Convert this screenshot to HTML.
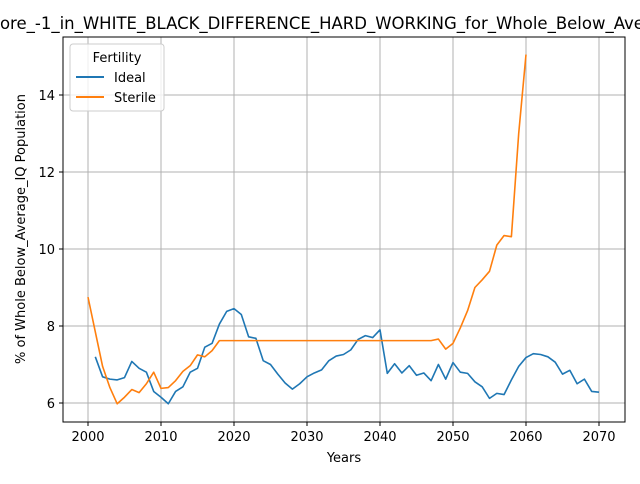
<!DOCTYPE html>
<html><head><meta charset="utf-8"><style>
body{margin:0;background:#fff;font-family:"DejaVu Sans","Liberation Sans",sans-serif;}
svg text{font-family:"DejaVu Sans","Liberation Sans",sans-serif;}
</style></head><body>
<svg id="chart" width="640" height="480" viewBox="0 0 640 480" xmlns="http://www.w3.org/2000/svg">
<rect width="640" height="480" fill="#fff"/>
<g id="grid"></g>
<g id="series"></g>
<rect x="63" y="37" width="562" height="385" fill="none" stroke="#000" stroke-width="1"/>
<g id="ticks"></g>
<text x="344" y="29" font-size="16.5" text-anchor="middle">Score_-1_in_WHITE_BLACK_DIFFERENCE_HARD_WORKING_for_Whole_Below_Average_IQ</text>
<text x="344" y="462" font-size="13" text-anchor="middle">Years</text>
<text transform="translate(25,229) rotate(-90)" font-size="13" text-anchor="middle">% of Whole Below_Average_IQ Population</text>
<g>
<rect x="70" y="44" width="94" height="67" rx="3" fill="#fff" fill-opacity="0.8" stroke="#ccc"/>
<text x="117" y="62" font-size="13" text-anchor="middle">Fertility</text>
<line x1="76" y1="77" x2="104" y2="77" stroke="#1f77b4" stroke-width="2"/>
<text x="114" y="82" font-size="13">Ideal</text>
<line x1="76" y1="97" x2="104" y2="97" stroke="#ff7f0e" stroke-width="2"/>
<text x="114" y="102" font-size="13">Sterile</text>
</g>
</svg>
<script>
const idealYears = [];
for (let y = 2001; y <= 2070; y++) idealYears.push(y);
const idealValues = [7.2,6.68,6.62,6.6,6.66,7.08,6.9,6.8,6.3,6.15,5.98,6.3,6.42,6.8,6.9,7.45,7.55,8.05,8.38,8.45,8.3,7.72,7.68,7.1,7.0,6.75,6.52,6.36,6.5,6.68,6.78,6.86,7.1,7.22,7.26,7.38,7.65,7.75,7.7,7.9,6.77,7.02,6.78,6.97,6.72,6.78,6.58,7.0,6.62,7.05,6.8,6.77,6.55,6.42,6.12,6.25,6.22,6.6,6.95,7.18,7.28,7.26,7.2,7.06,6.75,6.85,6.5,6.62,6.3,6.28];
const sterileYears = [];
for (let y = 2000; y <= 2060; y++) sterileYears.push(y);
const sterileValues = [8.75,7.85,6.95,6.4,5.98,6.15,6.35,6.27,6.5,6.8,6.38,6.4,6.58,6.82,6.97,7.25,7.2,7.36,7.62,7.62,7.62,7.62,7.62,7.62,7.62,7.62,7.62,7.62,7.62,7.62,7.62,7.62,7.62,7.62,7.62,7.62,7.62,7.62,7.62,7.62,7.62,7.62,7.62,7.62,7.62,7.62,7.62,7.62,7.66,7.4,7.55,7.95,8.4,9.0,9.2,9.42,10.1,10.35,10.32,13.0,15.05];
const xTicks = [2000,2010,2020,2030,2040,2050,2060,2070];
const yTicks = [6,8,10,12,14];

const NS = "http://www.w3.org/2000/svg";
const X = v => 88 + (v - 2000) * (599 - 88) / 70;
const Y = v => 403 - (v - 6) * (403 - 95) / 8;
const grid = document.getElementById('grid'), ticks = document.getElementById('ticks'), series = document.getElementById('series');
function mk(tag, attrs, parent){const e=document.createElementNS(NS,tag);for(const k in attrs)e.setAttribute(k,attrs[k]);parent.appendChild(e);return e;}
xTicks.forEach(t=>{
  const gl=mk('line',{x1:X(t),x2:X(t),y1:37,y2:422,stroke:'#b0b0b0','stroke-width':1},grid);
  
  
  mk('line',{x1:X(t),x2:X(t),y1:422,y2:426,stroke:'#000'},ticks);
  const tx=mk('text',{x:X(t),y:441,'font-size':13,'text-anchor':'middle'},ticks);
  tx.textContent=t;
  
  
});
yTicks.forEach(t=>{
  const gl=mk('line',{x1:63,x2:625,y1:Y(t),y2:Y(t),stroke:'#b0b0b0','stroke-width':1},grid);
  
  
  mk('line',{x1:59,x2:63,y1:Y(t),y2:Y(t),stroke:'#000'},ticks);
  const tx=mk('text',{x:55,y:Y(t)+5,'font-size':13,'text-anchor':'end'},ticks);
  tx.textContent=t;
  
  
});
function line(xs, vs, color, name){
  const p=mk('polyline',{points:xs.map((x,i)=>X(x)+','+Y(vs[i])).join(' '),fill:'none',stroke:color,'stroke-width':1.6,'stroke-linejoin':'round'},series);
  
  
}
line(idealYears, idealValues, '#1f77b4', 'ideal-line');
line(sterileYears, sterileValues, '#ff7f0e', 'sterile-line');
</script>
</body></html>
